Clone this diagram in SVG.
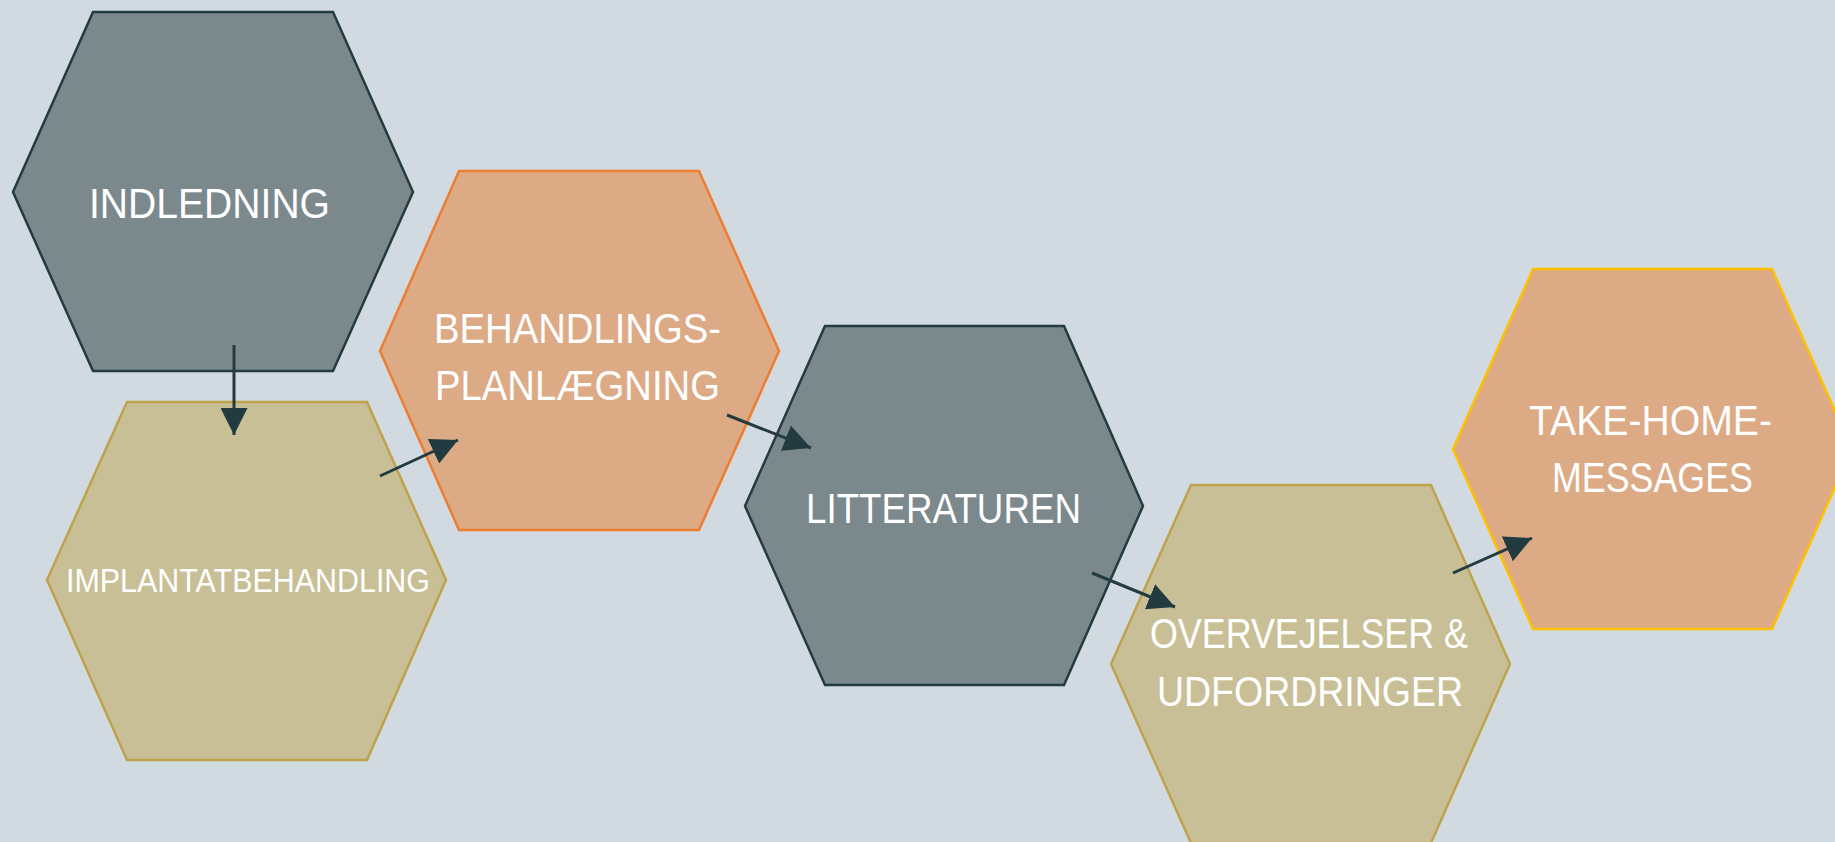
<svg xmlns="http://www.w3.org/2000/svg" width="1835" height="842" viewBox="0 0 1835 842">
<style>
.gray{fill:#7B898D;stroke:#243B40;stroke-width:2.5}
.tan{fill:#C8BF96;stroke:#BFA24C;stroke-width:2.5}
.orange{fill:#DDAA86;stroke:#ED7D31;stroke-width:2.5}
.orange2{fill:#DDAA86;stroke:#FFC000;stroke-width:2.5}
.lbl{font-family:"Liberation Sans",Arial,sans-serif;fill:#FFFFFF}
.big{font-size:42px}
.small{font-size:34px}
.conn{stroke:#223B40;stroke-width:3;fill:none;marker-end:url(#ah)}
</style>
<defs>
<marker id="ah" markerUnits="userSpaceOnUse" markerWidth="27" markerHeight="27" viewBox="0 0 27 27" refX="27" refY="13.5" orient="auto">
<path d="M0,0 L27,13.5 L0,27 z" fill="#223B40"/>
</marker>
</defs>
<rect x="0" y="0" width="1835" height="842" fill="#D1DAE0"/>
<g id="node-indledning">
<polygon class="gray" points="93,12 333,12 413,192 333,371 93,371 13,192"/>
<text class="lbl big" x="89" y="218" textLength="241" lengthAdjust="spacingAndGlyphs">INDLEDNING</text>
</g>
<g id="node-implantatbehandling">
<polygon class="tan" points="127,402 367,402 446,580 367,760 127,760 47,580"/>
<text class="lbl small" x="66" y="592" textLength="364" lengthAdjust="spacingAndGlyphs">IMPLANTATBEHANDLING</text>
</g>
<g id="node-behandlingsplanlaegning">
<polygon class="orange" points="459,171 699,171 779,351 699,530 459,530 380,351"/>
<text class="lbl big" x="434" y="343" textLength="287" lengthAdjust="spacingAndGlyphs">BEHANDLINGS-</text>
<text class="lbl big" x="435" y="400" textLength="285" lengthAdjust="spacingAndGlyphs">PLANLÆGNING</text>
</g>
<g id="node-litteraturen">
<polygon class="gray" points="825,326 1064,326 1143,506 1064,685 825,685 745,506"/>
<text class="lbl big" x="806" y="523" textLength="275" lengthAdjust="spacingAndGlyphs">LITTERATUREN</text>
</g>
<g id="node-overvejelser">
<polygon class="tan" points="1191,485 1431,485 1510,664 1431,843 1191,843 1111,664"/>
<text class="lbl big" x="1150" y="648" textLength="318" lengthAdjust="spacingAndGlyphs">OVERVEJELSER &amp;</text>
<text class="lbl big" x="1157" y="706" textLength="306" lengthAdjust="spacingAndGlyphs">UDFORDRINGER</text>
</g>
<g id="node-takehome">
<polygon class="orange2" points="1533,269 1772,269 1852,449 1772,629 1533,629 1453,449"/>
<text class="lbl big" x="1529" y="435" textLength="243" lengthAdjust="spacingAndGlyphs">TAKE-HOME-</text>
<text class="lbl big" x="1552" y="492" textLength="201" lengthAdjust="spacingAndGlyphs">MESSAGES</text>
</g>
<g id="connectors">
<line class="conn" x1="234" y1="345" x2="234" y2="435"/>
<line class="conn" x1="380" y1="476" x2="458" y2="440"/>
<line class="conn" x1="727" y1="415" x2="811" y2="448"/>
<line class="conn" x1="1092" y1="573" x2="1175" y2="607"/>
<line class="conn" x1="1453" y1="573" x2="1532" y2="538"/>
</g>
</svg>
